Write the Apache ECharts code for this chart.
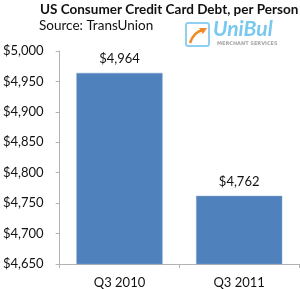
<!DOCTYPE html>
<html><head><meta charset="utf-8">
<script src="https://cdn.jsdelivr.net/npm/echarts@6/dist/echarts.min.js"></script>
<style>html,body{margin:0;padding:0;background:#fff}#c{width:300px;height:289px}</style>
</head><body><div id="c"></div>
<script>
var categories = ['Q3 2010', 'Q3 2011'];
var debtValues = [4964, 4762];
var yMin = 4650, yMax = 5000, yStep = 50;
var titleText = 'US Consumer Credit Card Debt, per Person';
var subText = 'Source: TransUnion';

function money(v){ return '$' + String(v).replace(/\B(?=(\d{3})+(?!\d))/g, ','); }

var chart = echarts.init(document.getElementById('c'), null, {renderer:'canvas'});
var font = 'Lato, sans-serif';
chart.setOption({
  animation:false,
  textStyle:{fontFamily:font},
  grid:{left:59, right:1, top:51, bottom:24, containLabel:false},
  graphic:[
    {type:'text', left:40, top:3, style:{text:titleText, font:'bold 13.5px Lato, sans-serif', fill:'#111'}},
    {type:'text', left:39, top:19, style:{text:subText, font:'13.5px Lato, sans-serif', fill:'#111'}},
    {type:'rect', shape:{x:186, y:23, width:23, height:23, r:2}, style:{fill:'#fff', stroke:'#8fd0f2', lineWidth:2}},
    {type:'bezierCurve', shape:{x1:190, y1:43, x2:203, y2:30, cpx1:193, cpy1:34, cpx2:198, cpy2:31}, style:{stroke:'#f08a24', lineWidth:2.5, fill:null}},
    {type:'polygon', shape:{points:[[199,28],[207,28],[203,34]]}, style:{fill:'#f08a24'}},
    {type:'text', left:213, top:19, style:{text:'UniBul', font:'italic bold 21px Lato, sans-serif', fill:'#79c8ef'}},
    {type:'text', left:217, top:41, style:{text:'MERCHANT SERVICES', font:'bold 5px "DejaVu Sans", sans-serif', fill:'#a6a6a6'}}
  ],
  xAxis:{type:'category', data:categories,
    axisLine:{lineStyle:{color:'#b3b3b3'}},
    axisTick:{show:true, length:4, lineStyle:{color:'#b3b3b3'}},
    axisLabel:{color:'#111', fontSize:13, margin:12, fontFamily:font}},
  yAxis:{type:'value', min:yMin, max:yMax, interval:yStep,
    splitLine:{show:false},
    axisLine:{show:true, lineStyle:{color:'#b3b3b3'}},
    axisTick:{show:true, length:4, lineStyle:{color:'#b3b3b3'}},
    axisLabel:{color:'#111', fontSize:13, margin:16, fontFamily:font, formatter:function(v){return money(v);}}},
  series:[{type:'bar', data:debtValues, barWidth:'72%',
    itemStyle:{color:'#4f81bd', borderColor:'#7fa3d0', borderWidth:0.5},
    label:{show:true, position:'top', distance:8, color:'#111', fontSize:13, fontFamily:font, formatter:function(p){return money(p.value);}}}]
});
</script></body></html>
